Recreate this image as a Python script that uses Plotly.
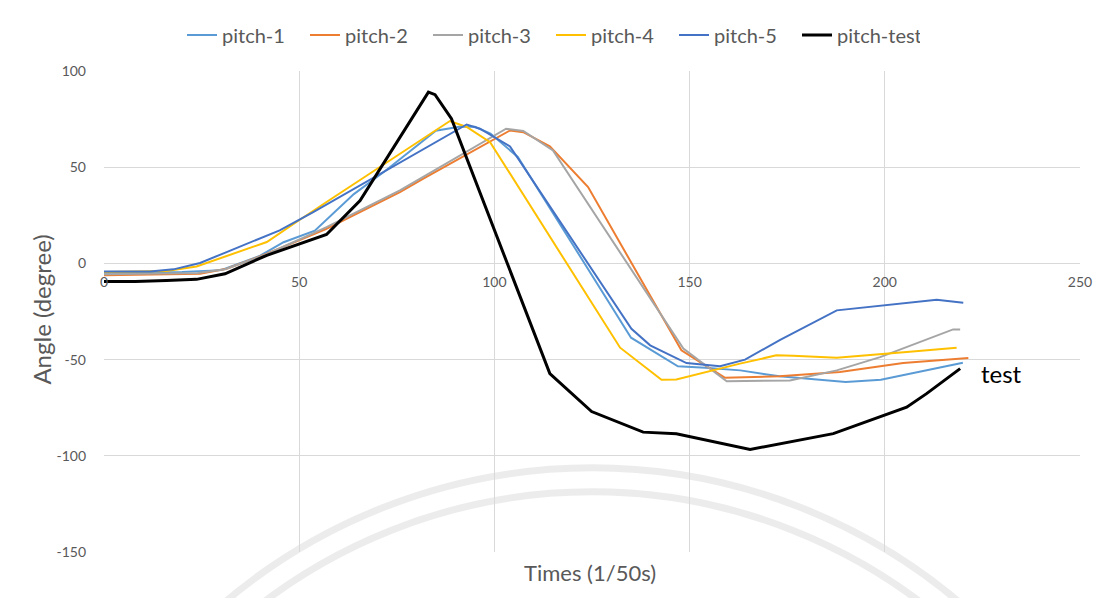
import plotly.graph_objects as go

# values (time in 1/50 s, angle in degree)
p1_x = [0, 10, 20, 30, 40, 46, 54, 64, 72, 85, 91, 95, 99, 106, 135, 147, 154, 163, 173, 190, 199, 220]
p1_y = [-4.9, -4.9, -4.5, -3.5, 4, 11, 17, 36, 48, 69, 71, 71, 67.5, 55.3, -38.6, -53.5, -54.2, -55.6, -58.7, -61.7, -60.5, -51.6]

p2_x = [0, 24.6, 31.4, 41.7, 57, 75.8, 81.8, 104, 107.4, 114.2, 124, 147.9, 159, 173, 188.5, 204.7, 221.4]
p2_y = [-6.2, -5.4, -2.8, 5, 18, 37, 44, 69.1, 68.2, 60.8, 39.7, -45.2, -59.4, -58.7, -56.5, -51.8, -49.2]

p3_x = [0, 24, 31, 42, 57, 75.8, 103, 107.4, 115, 148.4, 159.5, 175.7, 187.7, 198.8, 217.5, 219.3]
p3_y = [-5.6, -5, -3, 5, 18.9, 37.9, 70, 68.8, 58.7, -44.3, -61.3, -60.8, -55.6, -48.7, -34.3, -34.3]

p4_x = [0, 16, 23.7, 41.7, 49.3, 57, 88.6, 92.9, 98.9, 132.2, 142.8, 146.6, 162.9, 172.2, 176.5, 187.7, 205.6, 218.4]
p4_y = [-4.5, -4, -1.6, 11.1, 21.5, 31.9, 74, 70.9, 63, -43.8, -60.5, -60.3, -52.1, -47.8, -48, -49, -46.1, -43.8]

p5_x = [0, 11.8, 17.8, 24.6, 31.4, 45, 53.6, 89.5, 92.9, 96.3, 104, 135.1, 139.9, 149.2, 157.8, 164.2, 173.2, 187.7, 213.3, 220.1]
p5_y = [-4.2, -4.2, -3.1, 0.2, 5.9, 17.2, 26.7, 68.3, 72.2, 70, 60.8, -34, -42.6, -51.8, -53.5, -50, -39.7, -24.4, -18.9, -20.4]

pt_x = [0, 8, 16, 23.7, 31, 41.7, 57, 65.6, 83.1, 84.8, 89, 114.2, 124.9, 138.1, 146.6, 163, 165.5, 186.8, 205.6, 210.7, 219.3]
pt_y = [-9.4, -9.4, -8.9, -8.3, -5.4, 4.2, 15, 32.7, 89, 87.7, 75.2, -57.3, -77, -87.7, -88.5, -95.8, -96.7, -88.5, -74.7, -67.7, -54.7]

x_ticks = [0, 50, 100, 150, 200, 250]
y_ticks = [100, 50, 0, -50, -100, -150]

series = [
    ("pitch-1", p1_x, p1_y, "#5B9BD5", 2),
    ("pitch-2", p2_x, p2_y, "#ED7D31", 2),
    ("pitch-3", p3_x, p3_y, "#A5A5A5", 2),
    ("pitch-4", p4_x, p4_y, "#FFC000", 2),
    ("pitch-5", p5_x, p5_y, "#4472C4", 2),
    ("pitch-test", pt_x, pt_y, "#000000", 3),
]

FONT = "Lato"
GREY = "#595959"

fig = go.Figure()
for name, xs, ys, col, w in series:
    fig.add_trace(go.Scatter(x=xs, y=ys, mode="lines", name=name,
                             line=dict(color=col, width=w)))

# faint watermark rings behind the chart
for x0, x1, y0, y1 in [(-0.083, 1.083, -2.191, 0.175), (-0.058, 1.058, -2.141, 0.125)]:
    fig.add_shape(type="circle", xref="paper", yref="paper", x0=x0, x1=x1, y0=y0, y1=y1,
                  line=dict(color="rgba(200,200,200,0.35)", width=7), layer="below")

# chart frame
fig.add_shape(type="rect", xref="paper", yref="paper", x0=-0.099, x1=1.2, y0=-0.3, y1=1.1435,
              line=dict(color="#D9D9D9", width=1), layer="below")

fig.add_annotation(x=224, y=-57, text="test", showarrow=False, xanchor="left",
                   font=dict(family=FONT, size=24, color="black"))
fig.add_annotation(xref="paper", yref="paper", x=0.498, y=-0.042, text="Times (1/50s)",
                   xanchor="center", yanchor="middle",
                   showarrow=False, font=dict(family=FONT, size=22, color=GREY))
fig.add_annotation(xref="paper", yref="paper", x=-0.064, y=0.503, text="Angle (degree)",
                   xanchor="center", yanchor="middle",
                   textangle=-90, showarrow=False, font=dict(family=FONT, size=24, color=GREY))

# the page body adds an 8px offset, so margins are reduced by 8px on top/left
fig.update_layout(
    width=1106, height=598,
    margin=dict(l=96, r=34, t=63, b=54, autoexpand=False),
    paper_bgcolor="white", plot_bgcolor="rgba(0,0,0,0)",
    font=dict(family=FONT, color=GREY),
    legend=dict(orientation="h", x=0.458, xanchor="center", y=1.075, yanchor="middle",
                font=dict(size=20, color=GREY), entrywidth=78, entrywidthmode="pixels"),
    xaxis=dict(range=[0, 250], tickvals=x_ticks, ticktext=[str(v) for v in x_ticks],
               showgrid=True, gridcolor="#D9D9D9", automargin=False,
               zeroline=False, showline=False, anchor="free", position=0.6,
               ticks="", ticklabelstandoff=9, tickfont=dict(size=14, color=GREY)),
    yaxis=dict(range=[-150, 100], tickvals=y_ticks, ticktext=[str(v) for v in y_ticks],
               showgrid=True, gridcolor="#D9D9D9", automargin=False,
               zeroline=False, showline=False, ticks="", ticklabelstandoff=17,
               tickfont=dict(size=14, color=GREY)),
)

fig.write_html("out.html")
